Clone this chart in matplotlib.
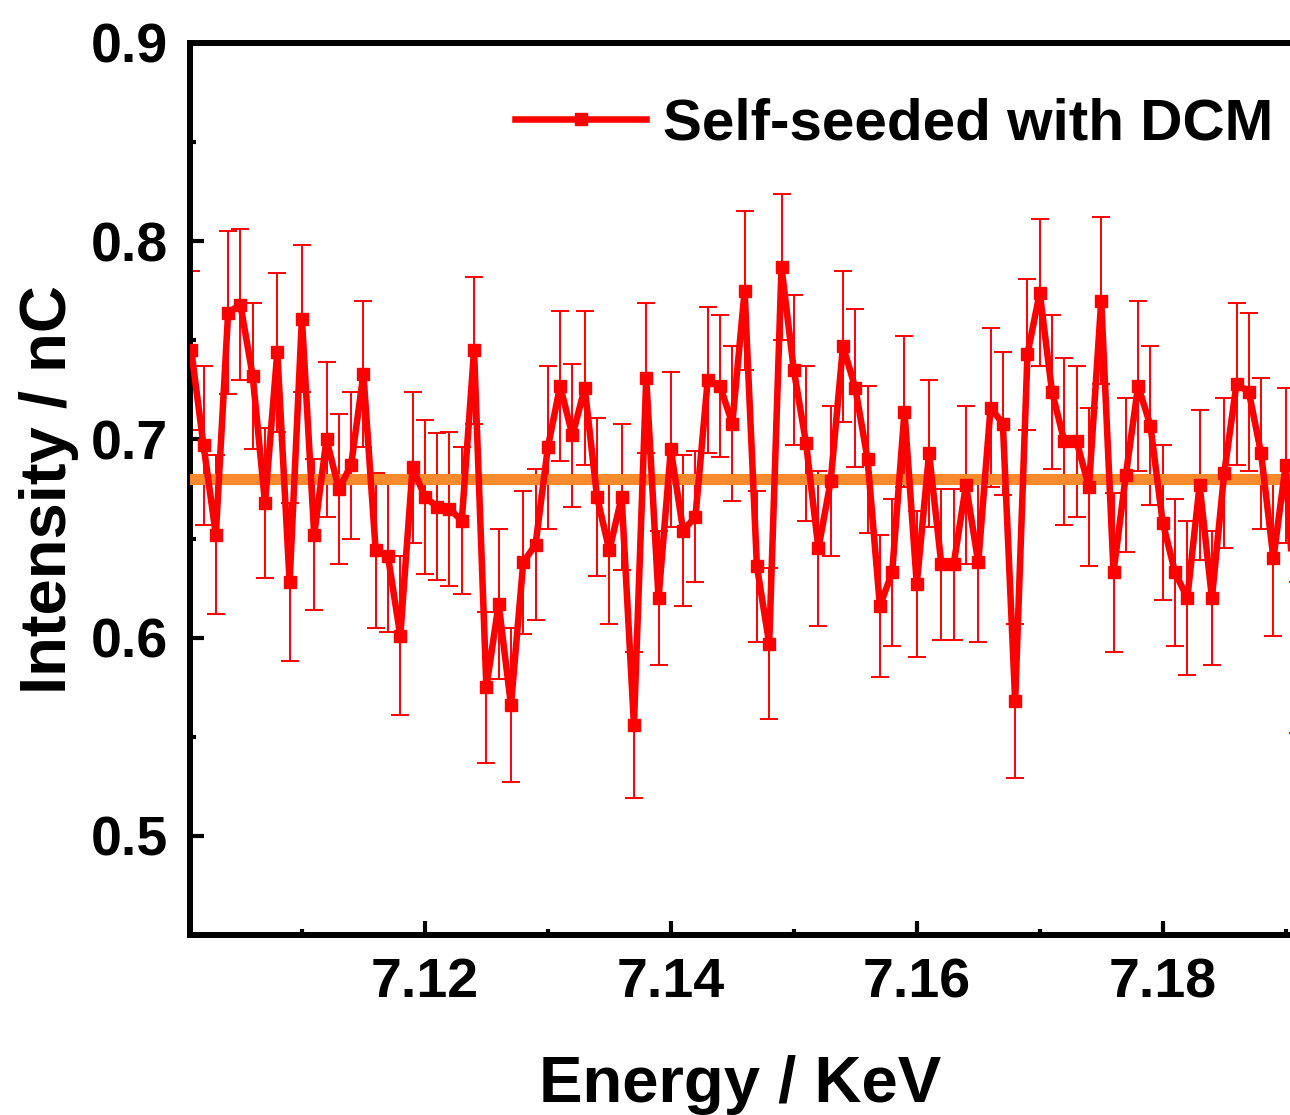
import matplotlib
matplotlib.use('Agg')
import matplotlib.pyplot as plt
from matplotlib.ticker import MultipleLocator, FormatStrFormatter
import numpy as np

plt.rcParams['font.family'] = ['Liberation Sans', 'DejaVu Sans']
plt.rcParams['font.weight'] = 'bold'

# energy in keV, 1 eV steps
energy = [7.101, 7.102, 7.103, 7.104, 7.105, 7.106, 7.107, 7.108, 7.109, 7.110,
          7.111, 7.112, 7.113, 7.114, 7.115, 7.116, 7.117, 7.118, 7.119, 7.120,
          7.121, 7.122, 7.123, 7.124, 7.125, 7.126, 7.127, 7.128, 7.129, 7.130,
          7.131, 7.132, 7.133, 7.134, 7.135, 7.136, 7.137, 7.138, 7.139, 7.140,
          7.141, 7.142, 7.143, 7.144, 7.145, 7.146, 7.147, 7.148, 7.149, 7.150,
          7.151, 7.152, 7.153, 7.154, 7.155, 7.156, 7.157, 7.158, 7.159, 7.160,
          7.161, 7.162, 7.163, 7.164, 7.165, 7.166, 7.167, 7.168, 7.169, 7.170,
          7.171, 7.172, 7.173, 7.174, 7.175, 7.176, 7.177, 7.178, 7.179, 7.180,
          7.181, 7.182, 7.183, 7.184, 7.185, 7.186, 7.187, 7.188, 7.189, 7.190,
          7.191]

intensity = [0.745, 0.697, 0.652, 0.764, 0.768, 0.732, 0.668, 0.744, 0.628, 0.761,
             0.652, 0.700, 0.675, 0.687, 0.733, 0.644, 0.641, 0.601, 0.686, 0.671,
             0.666, 0.665, 0.659, 0.745, 0.575, 0.617, 0.566, 0.638, 0.647, 0.696,
             0.727, 0.702, 0.726, 0.671, 0.644, 0.671, 0.556, 0.731, 0.620, 0.695,
             0.654, 0.661, 0.730, 0.727, 0.708, 0.775, 0.636, 0.597, 0.787, 0.735,
             0.698, 0.645, 0.679, 0.747, 0.726, 0.690, 0.616, 0.633, 0.714, 0.627,
             0.693, 0.637, 0.637, 0.677, 0.638, 0.716, 0.708, 0.568, 0.743, 0.774,
             0.724, 0.699, 0.699, 0.676, 0.770, 0.633, 0.682, 0.727, 0.707, 0.658,
             0.633, 0.620, 0.677, 0.620, 0.683, 0.728, 0.724, 0.693, 0.640, 0.687,
             0.590]

error = [0.040, 0.040, 0.040, 0.041, 0.038, 0.037, 0.038, 0.040, 0.040, 0.037,
         0.038, 0.039, 0.038, 0.037, 0.037, 0.039, 0.038, 0.040, 0.038, 0.039,
         0.037, 0.039, 0.037, 0.037, 0.038, 0.038, 0.039, 0.036, 0.038, 0.041,
         0.038, 0.036, 0.039, 0.040, 0.037, 0.037, 0.037, 0.038, 0.034, 0.039,
         0.038, 0.033, 0.037, 0.036, 0.039, 0.040, 0.038, 0.038, 0.037, 0.038,
         0.039, 0.039, 0.038, 0.038, 0.040, 0.037, 0.036, 0.037, 0.038, 0.037,
         0.037, 0.038, 0.038, 0.040, 0.040, 0.040, 0.036, 0.039, 0.038, 0.037,
         0.039, 0.042, 0.038, 0.040, 0.042, 0.040, 0.039, 0.043, 0.040, 0.039,
         0.037, 0.039, 0.038, 0.034, 0.038, 0.041, 0.040, 0.038, 0.039, 0.039,
         0.038]

mean_level = 0.680
series_label = 'Self-seeded with DCM'

W, H = 1290, 1115
fig = plt.figure(figsize=(W / 100, H / 100), dpi=100)
left, right, top, bottom = 190, 1290, 43, 935
ax = fig.add_axes([left / W, (H - bottom) / H, (right - left) / W, (bottom - top) / H])

ax.errorbar(energy, intensity, yerr=error, fmt='none', ecolor='#ff0000',
            elinewidth=1.4, capsize=6.5, capthick=1.4, zorder=2)
ax.axhline(mean_level, color='#f78a2c', lw=8, zorder=3)
ax.plot(energy, intensity, color='#ff0000', lw=4.7, marker='s', ms=8.5,
        label=series_label, zorder=4)

ax.set_xlim(7.1009, 7.19035)
ax.set_ylim(0.45, 0.9)

ax.xaxis.set_major_locator(MultipleLocator(0.02))
ax.xaxis.set_minor_locator(MultipleLocator(0.01))
ax.xaxis.set_major_formatter(FormatStrFormatter('%.2f'))
ax.yaxis.set_major_locator(MultipleLocator(0.1))
ax.yaxis.set_minor_locator(MultipleLocator(0.05))
ax.yaxis.set_major_formatter(FormatStrFormatter('%.1f'))

for s in ['left', 'bottom', 'top']:
    ax.spines[s].set_linewidth(4.3)
ax.spines['right'].set_visible(False)

ax.tick_params(which='both', direction='in', top=False, right=False, width=3)
ax.tick_params(which='major', length=10, labelsize=40, pad=16)
ax.tick_params(which='minor', length=4.5)
for lab in ax.get_xticklabels() + ax.get_yticklabels():
    lab.set_fontweight('bold')

ax.set_xlabel('Energy / KeV', fontsize=47, fontweight='bold', labelpad=33)
ax.set_ylabel('Intensity / nC', fontsize=47, fontweight='bold', labelpad=8)

leg = ax.legend(loc='center left', bbox_to_anchor=(515 / W, (H - 124) / H),
                bbox_transform=fig.transFigure, frameon=False, fontsize=42,
                handlelength=2.25, handletextpad=0.28, borderpad=0, borderaxespad=0)
for t in leg.get_texts():
    t.set_fontweight('bold')

fig.savefig('out.png', dpi=100)
